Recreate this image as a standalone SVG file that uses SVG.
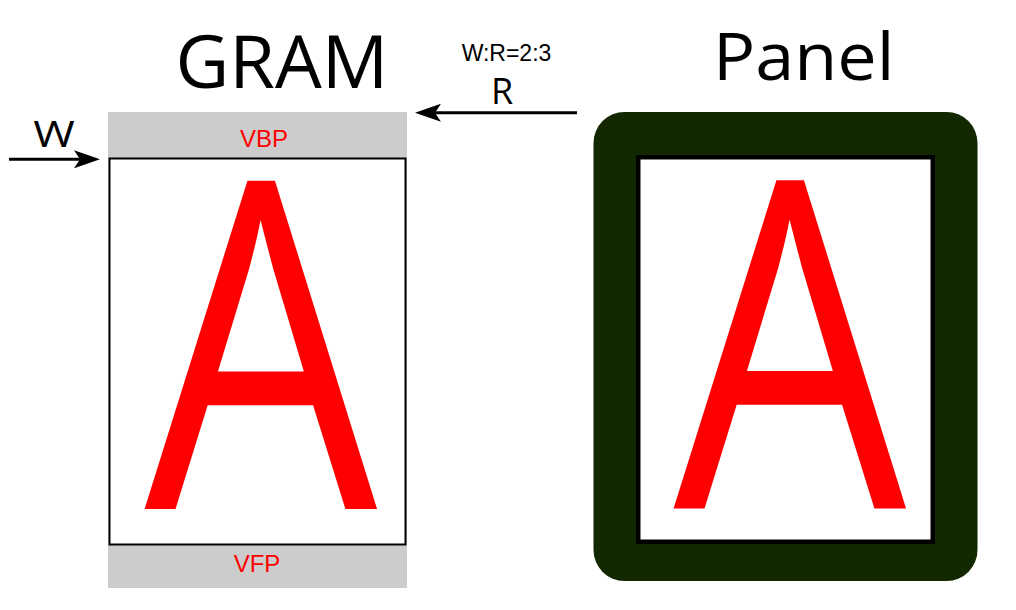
<svg xmlns="http://www.w3.org/2000/svg" width="1016" height="610" viewBox="0 0 1016 610">
  <style>
    .title { font-family: "Open Sans", "Noto Sans", sans-serif; fill: #000; }
    .big { font-family: "Open Sans", "Noto Sans", sans-serif; font-size: 458px; fill: #ff0000; text-anchor: middle; }
    .porch { font-family: "Liberation Sans", Arial, sans-serif; font-size: 24px; fill: #ff0000; text-anchor: middle; }
    .ratio { font-family: "Liberation Sans", Arial, sans-serif; font-size: 23px; fill: #000; text-anchor: middle; }
    .arrow { stroke: #000; stroke-width: 3; fill: none; }
  </style>
  <defs>
    <marker id="head" viewBox="0 0 26 18" refX="18" refY="9" markerWidth="26" markerHeight="18" markerUnits="userSpaceOnUse" orient="auto">
      <path d="M0,0 L26,9 L0,18 L6,9 Z" fill="#000"/>
    </marker>
  </defs>
  <rect width="1016" height="610" fill="#ffffff"/>

  <g id="gram">
    <text class="title" x="175.5" y="88" font-size="74">GRAM</text>
    <rect x="108" y="112" width="299" height="476" fill="#cccccc"/>
    <rect x="109.5" y="158.5" width="296" height="386" fill="#ffffff" stroke="#000" stroke-width="2"/>
    <text class="porch" x="264" y="147">VBP</text>
    <text class="porch" x="257" y="572">VFP</text>
    <text class="big" transform="translate(261,509) scale(0.804,1)">A</text>
  </g>

  <g id="panel">
    <text class="title" transform="translate(720,80) scale(1.08,1)" x="-6.4" y="0" font-size="65">Panel</text>
    <rect x="593.5" y="112" width="384" height="469" rx="31" ry="31" fill="#112800"/>
    <rect x="638.25" y="157.25" width="294.5" height="384.5" fill="#ffffff" stroke="#000" stroke-width="4.5"/>
    <text class="big" transform="translate(790,508.5) scale(0.804,1)">A</text>
  </g>

  <g id="labels">
    <text class="title" transform="translate(54,147) scale(1.25,1)" x="0" y="0" font-size="36" text-anchor="middle">W</text>
    <text class="title" x="502" y="104" font-size="36" text-anchor="middle">R</text>
    <text class="ratio" x="506.5" y="61">W:R=2:3</text>
  </g>

  <g id="connectors">
    <line class="arrow" x1="9" y1="159.3" x2="92" y2="159.3" marker-end="url(#head)"/>
    <line class="arrow" x1="577" y1="112.7" x2="423" y2="112.7" marker-end="url(#head)"/>
  </g>
</svg>
